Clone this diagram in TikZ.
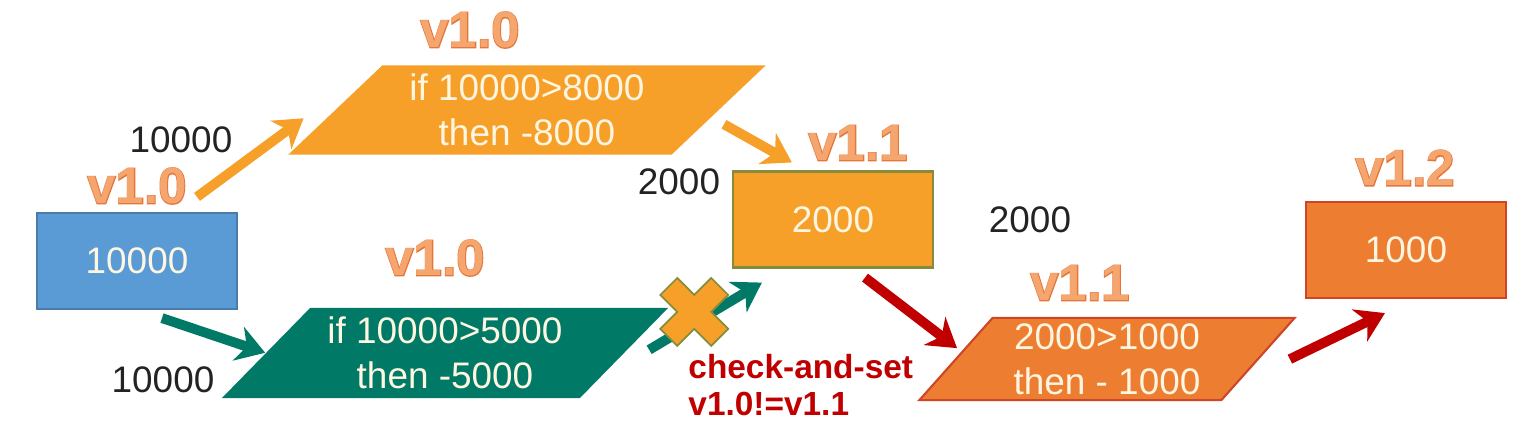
\documentclass[tikz,border=0pt]{standalone}
\usepackage{fontspec}
\setmainfont{Liberation Sans}
\newfontfamily\verfont{Liberation Sans Bold}
\newfontfamily\verthick{Liberation Sans Bold}[FakeBold=3]
\usetikzlibrary{shapes.geometric,arrows.meta,calc}

\definecolor{acctblue}{RGB}{91,155,213}
\definecolor{updorange}{RGB}{246,160,42}
\definecolor{updteal}{RGB}{0,122,102}
\definecolor{updred}{RGB}{237,125,49}
\definecolor{balrim}{RGB}{135,140,60}
\definecolor{redrim}{RGB}{205,70,40}
\definecolor{flowred}{RGB}{192,0,0}
\definecolor{verfill}{RGB}{245,165,110}
\definecolor{verrim}{RGB}{228,118,58}
\definecolor{paper}{RGB}{255,246,225}
\definecolor{ink}{RGB}{35,35,35}

\newcommand\vertag[1]{\rlap{\color{verrim}\verthick #1}{\color{verfill}\verfont #1}}

\begin{document}
\begin{tikzpicture}[
  x=0.01cm, y=-0.01cm,
  font=\fontsize{10.5}{12.8}\selectfont,
  box/.style={draw=#1!80!black, fill=#1, text=paper, line width=0.6pt,
    minimum width=2cm, minimum height=0.96cm, inner sep=0pt},
  para/.style={trapezium, trapezium stretches body, fill=#1, text=paper,
    align=center, inner xsep=0pt},
  amt/.style={text=ink},
  ver/.style={font=\fontsize{14.5}{16}\selectfont},
  cas/.style={font=\fontsize{9.5}{10.5}\selectfont\bfseries, text=flowred, align=left},
  flow/.style={draw=#1, line width=2.8pt, -{Stealth[length=8pt,width=10pt,inset=2.5pt]}},
  blockx/.style={fill=updorange, draw=balrim, line width=0.5pt},
]
\path[use as bounding box] (0,0) rectangle (1532,438);

\node[box=acctblue] (acct) at (137,261) {10000};
\node[para=updorange, trapezium left angle=43.5, trapezium right angle=136.5,
  inner ysep=0.085cm, minimum width=4.77cm] (upd1) at (527,110) {if 10000>8000\\then -8000};
\node[para=updteal, trapezium left angle=45.6, trapezium right angle=134.4,
  inner ysep=0.09cm, minimum width=4.46cm] (upd2) at (445,353) {if 10000>5000\\then -5000};
\node[box=updorange, draw=balrim] (bal1) at (833,219.5) {2000};
\node[para=updred, draw=redrim, line width=0.6pt, trapezium left angle=48.3, trapezium right angle=131.7,
  inner ysep=0.055cm, minimum width=3.75cm] (upd3) at (1107,359) {2000>1000\\then - 1000};
\node[box=updred, draw=redrim] (bal2) at (1406,250) {1000};

\node[amt] (in1) at (181,140) {10000};
\node[ver] (v0) at (137,186) {\vertag{v1.0}};
\node[ver] (v1) at (470,30) {\vertag{v1.0}};
\node[ver] (v2) at (435,258) {\vertag{v1.0}};
\node[amt] (in2) at (163,380) {10000};
\node[amt] (in3) at (679,182) {2000};
\node[ver] (v3) at (858,143) {\vertag{v1.1}};
\node[cas, anchor=west] (casnote) at (676,385) {check-and-set\\v1.0!=v1.1};
\node[amt] (in4) at (1030,220) {2000};
\node[ver] (v4) at (1080,283) {\vertag{v1.1}};
\node[ver] (v5) at (1405,168) {\vertag{v1.2}};

\draw[flow=updorange] ($(acct.north)+(60,-15)$) -- ($(upd1.bottom left corner)+(17,-37)$);
\draw[flow=updorange] ($(upd1.bottom right corner)+(52,-31)$) -- ($(bal1.north west)+(60,-8)$);
\draw[flow=updteal] ($(acct.south)+(25,8)$) -- ($(upd2.bottom left corner)+(45,-46)$);
\draw[flow=updteal] ($(upd2.bottom right corner)+(69,-49)$) -- coordinate[pos=0.4] (clash)
  ($(bal1.south west)+(30,14)$);
\draw[flow=flowred] ($(bal1.south)+(32,9)$) -- ($(upd3.bottom left corner)+(40,-53)$);
\draw[flow=flowred] ($(upd3.bottom right corner)+(68,-42)$) -- ($(bal2.south)+(-21,14)$);

\begin{scope}[shift={($(clash)+(0,-11)$)}, rotate=45]
  \draw[blockx] (36,12) -- (12,12) -- (12,36) -- (-12,36) -- (-12,12) -- (-36,12)
    -- (-36,-12) -- (-12,-12) -- (-12,-36) -- (12,-36) -- (12,-12) -- (36,-12) -- cycle;
\end{scope}
\end{tikzpicture}
\end{document}
